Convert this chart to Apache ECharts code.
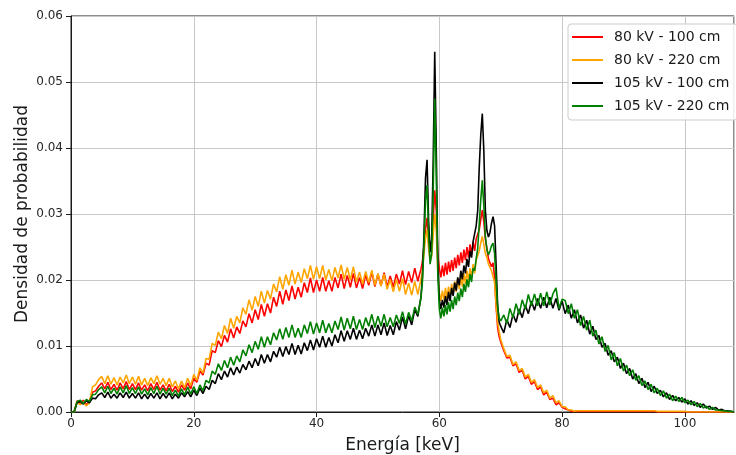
<!DOCTYPE html>
<html><head><meta charset="utf-8">
<script src="https://cdn.jsdelivr.net/npm/echarts@6/dist/echarts.min.js"></script>
<style>html,body{margin:0;padding:0;background:#fff}#c{width:736px;height:455px}</style>
</head><body><div id="c"></div>
<script>
// Energy grid (keV)
const energy = [
0,0.5,1,1.5,2,2.5,3,3.5,4,4.5,
5,5.5,6,6.5,7,7.5,8,8.5,9,9.5,
10,10.5,11,11.5,12,12.5,13,13.5,14,14.5,
15,15.5,16,16.5,17,17.5,18,18.5,19,19.5,
20,20.5,21,21.5,22,22.5,23,23.5,24,24.5,
25,25.5,26,26.5,27,27.5,28,28.5,29,29.5,
30,30.5,31,31.5,32,32.5,33,33.5,34,34.5,
35,35.5,36,36.5,37,37.5,38,38.5,39,39.5,
40,40.5,41,41.5,42,42.5,43,43.5,44,44.5,
45,45.5,46,46.5,47,47.5,48,48.5,49,49.5,
50,50.5,51,51.5,52,52.5,53,53.5,54,54.5,
55,55.5,56,56.5,
56.75,57,57.25,57.5,57.75,58,58.25,58.5,58.75,59,
59.25,59.5,59.75,60,60.25,60.5,60.75,61,61.25,61.5,
61.75,62,62.25,62.5,62.75,63,63.25,63.5,63.75,64,
64.25,64.5,64.75,65,65.25,65.5,65.75,66,66.25,66.5,
66.75,67,67.25,67.5,67.75,68,68.25,68.5,68.75,69,
69.25,69.5,69.75,70,
70.5,71,71.5,72,72.5,73,73.5,74,74.5,75,
75.5,76,76.5,77,77.5,78,78.5,79,79.5,80,
80.5,81,81.5,82,82.5,83,83.5,84,84.5,85,
85.5,86,86.5,87,87.5,88,88.5,89,89.5,90,
90.5,91,91.5,92,92.5,93,93.5,94,94.5,95,
95.5,96,96.5,97,97.5,98,98.5,99,99.5,100,
100.5,101,101.5,102,102.5,103,103.5,104,104.5,105,
105.5,106,106.5,107,107.5,108
];

// Probability density values, in units of 1e-4
const red80_100 = [
0,0,17,12,18,11,16,30,32,39,
44,35,45,34,42,33,44,35,46,34,
43,34,44,33,41,32,43,34,45,33,
41,32,42,31,39,30,41,33,44,35,
51,45,62,56,74,71,93,90,108,99,
116,106,126,112,129,119,138,129,149,135,
155,140,163,145,164,150,174,160,183,163,
185,169,191,171,189,174,196,181,203,181,
200,183,204,183,199,183,204,188,209,187,
207,189,210,188,204,187,208,192,212,190,
209,191,211,190,206,189,209,194,214,193,
213,196,218,198,
208,216,228,252,278,294,262,246,252,292,
336,305,238,218,204,222,206,226,208,228,
212,230,214,234,218,238,222,242,226,246,
230,250,234,254,238,258,244,262,260,276,
292,306,288,262,248,232,234,220,226,204,
160,128,114,106,
93,82,83,70,73,60,63,50,54,42,
46,34,38,26,30,19,21,11,14,7,
5,3,1,1,1,1,1,1,1,1,
1,1,1,1,1,1,1,1,1,1,
1,1,1,1,1,1,1,1,1,1,
0,0,0,0,0,0,0,0,0,0,
0,0,0,0,0,0,0,0,0,0,
0,0,0,0,0,0
];

const orange80_220 = [
0,0,16,11,15,9,14,38,41,49,
54,43,55,42,52,41,53,44,56,43,
53,42,54,41,51,40,52,43,55,42,
51,40,51,38,47,35,47,37,51,40,
57,48,67,59,81,80,104,101,121,111,
131,119,142,127,145,135,158,148,170,154,
175,160,183,165,184,171,194,182,205,186,
208,192,215,194,212,196,217,202,222,201,
220,202,222,200,216,199,219,203,223,201,
219,200,220,197,212,194,213,196,215,192,
210,191,209,186,201,182,201,183,202,178,
195,177,198,178,
190,200,215,240,264,276,248,228,236,268,
300,276,212,180,168,184,170,188,172,190,
174,194,178,198,182,202,186,206,190,210,
194,214,198,218,203,224,210,230,232,244,
256,266,254,240,234,224,223,214,216,196,
162,136,122,110,
96,84,86,72,76,63,66,53,57,45,
49,37,41,29,33,21,25,14,17,8,
8,3,3,1,2,2,2,2,2,2,
2,2,2,2,2,2,2,2,2,2,
2,2,2,2,2,2,2,2,2,2,
1,1,1,1,1,1,1,1,1,1,
0,0,0,0,0,0,0,0,0,0,
0,0,0,0,0,0
];

const black105_100 = [
0,0,14,16,12,17,14,21,20,26,
29,22,30,21,27,21,29,22,30,21,
28,21,29,20,27,20,28,21,29,20,
28,21,29,20,27,21,29,23,31,23,
33,25,36,28,39,34,48,43,58,49,
62,53,67,56,68,59,72,64,77,67,
81,70,87,74,87,76,92,83,98,84,
99,87,104,87,101,88,105,93,109,94,
111,98,115,98,113,100,117,105,123,107,
123,110,127,110,124,111,127,115,132,115,
132,117,135,116,131,117,137,124,144,126,
146,132,155,145,
160,174,205,270,355,382,290,242,262,380,
546,400,228,170,156,170,158,176,162,182,
168,188,176,196,184,204,192,214,201,222,
210,232,220,244,234,258,258,282,305,370,
420,452,395,305,275,265,272,286,296,282,
222,162,136,130,
120,140,128,148,136,156,143,162,149,168,
154,172,157,174,158,174,157,172,154,168,
149,162,142,155,135,147,127,139,118,130,
110,116,98,104,86,93,76,83,66,74,
58,66,50,58,43,51,37,45,31,39,
28,33,23,29,19,25,17,22,15,20,
12,17,10,14,7,12,6,9,4,7,
3,4,2,2,1,0
];

const green105_220 = [
0,0,16,18,13,19,16,26,27,34,
38,29,39,28,36,27,38,29,40,28,
37,28,38,27,35,26,37,28,39,27,
36,27,36,25,33,24,35,26,38,27,
38,28,41,32,48,44,62,57,73,63,
78,67,83,71,85,76,94,85,102,90,
107,95,114,98,114,102,120,109,126,110,
128,113,132,113,127,113,132,119,137,118,
135,120,139,120,134,120,138,125,144,124,
142,126,145,125,140,125,143,130,148,128,
145,130,148,129,143,129,147,134,152,133,
151,138,159,148,
160,172,198,255,320,344,268,224,240,332,
475,360,208,156,142,158,145,162,148,166,
152,170,156,175,162,181,168,187,174,194,
182,201,189,209,197,218,214,232,248,285,
322,351,312,266,246,238,244,252,256,240,
198,158,142,138,
147,134,157,143,164,148,170,156,178,161,
179,161,180,161,182,162,179,188,157,171,
169,149,164,142,155,131,145,124,139,115,
124,103,114,92,101,79,90,70,81,62,
71,55,64,48,55,40,47,34,42,29,
36,25,32,21,27,17,24,16,22,14,
18,11,16,8,13,6,9,4,7,3,
3,2,2,1,1,0
];

const seriesNames = ['80 kV - 100 cm', '80 kV - 220 cm', '105 kV - 100 cm', '105 kV - 220 cm'];
const seriesColors = ['#ff0000', '#ffa500', '#000000', '#008000'];
const seriesValues = [red80_100, orange80_220, black105_100, green105_220];
const xTickLabels = ['0', '20', '40', '60', '80', '100'];
const yTickLabels = ['0.00', '0.01', '0.02', '0.03', '0.04', '0.05', '0.06'];
const UNIT = 1e-4;

const FONT = 'DejaVu Sans';
const chart = echarts.init(document.getElementById('c'), null, {renderer: 'canvas'});
chart.setOption({
  animation: false,
  backgroundColor: '#fff',
  grid: {left: 71, right: 2, top: 16, bottom: 43, outerBoundsMode: 'none', containLabel: false,
    show: true, borderColor: '#1a1a1a', borderWidth: 1, backgroundColor: 'transparent'},
  xAxis: {
    type: 'value', min: 0, max: 108, interval: 20,
    name: 'Energía [keV]', nameLocation: 'middle', nameGap: 25, nameMoveOverlap: false,
    nameTextStyle: {fontFamily: FONT, fontSize: 17, color: '#1a1a1a'},
    axisLine: {show: true, onZero: false, lineStyle: {color: '#1a1a1a', width: 1}},
    axisTick: {show: true, inside: false, length: 5, lineStyle: {color: '#1a1a1a'}},
    axisLabel: {fontFamily: FONT, fontSize: 12, color: '#262626', margin: 6, showMaxLabel: false,
      formatter: v => { const i = xTickLabels.indexOf(String(v)); return i >= 0 ? xTickLabels[i] : ''; }},
    splitLine: {show: true, lineStyle: {color: '#c8c8c8', width: 1}}
  },
  yAxis: {
    type: 'value', min: 0, max: 0.06, interval: 0.01,
    name: 'Densidad de probabilidad', nameLocation: 'middle', nameGap: 40, nameMoveOverlap: false,
    nameTextStyle: {fontFamily: FONT, fontSize: 17, color: '#1a1a1a'},
    axisLine: {show: true, lineStyle: {color: '#1a1a1a', width: 1}},
    axisTick: {show: true, inside: false, length: 5, lineStyle: {color: '#1a1a1a'}},
    axisLabel: {fontFamily: FONT, fontSize: 12, color: '#262626', margin: 8,
      formatter: v => yTickLabels[Math.round(v / 0.01)] || ''},
    splitLine: {show: true, lineStyle: {color: '#c8c8c8', width: 1}}
  },
  legend: {
    orient: 'vertical', left: 568, top: 24,
    backgroundColor: 'rgba(255,255,255,0.85)', borderColor: '#cccccc', borderWidth: 1, borderRadius: 3,
    padding: [5, 8, 6, 4], itemGap: 7, itemWidth: 31, itemHeight: 2, icon: 'rect',
    textStyle: {fontFamily: FONT, fontSize: 14, color: '#1a1a1a', lineHeight: 16, padding: [0, 0, 0, 6]},
    data: seriesNames
  },
  series: seriesValues.map((vals, k) => ({
    name: seriesNames[k], type: 'line', symbol: 'none', showSymbol: false,
    color: seriesColors[k],
    lineStyle: {color: seriesColors[k], width: 1.6},
    itemStyle: {color: seriesColors[k]},
    emphasis: {disabled: true},
    data: energy.map((e, i) => [e, vals[i] * UNIT])
  }))
});
</script>
</body></html>
